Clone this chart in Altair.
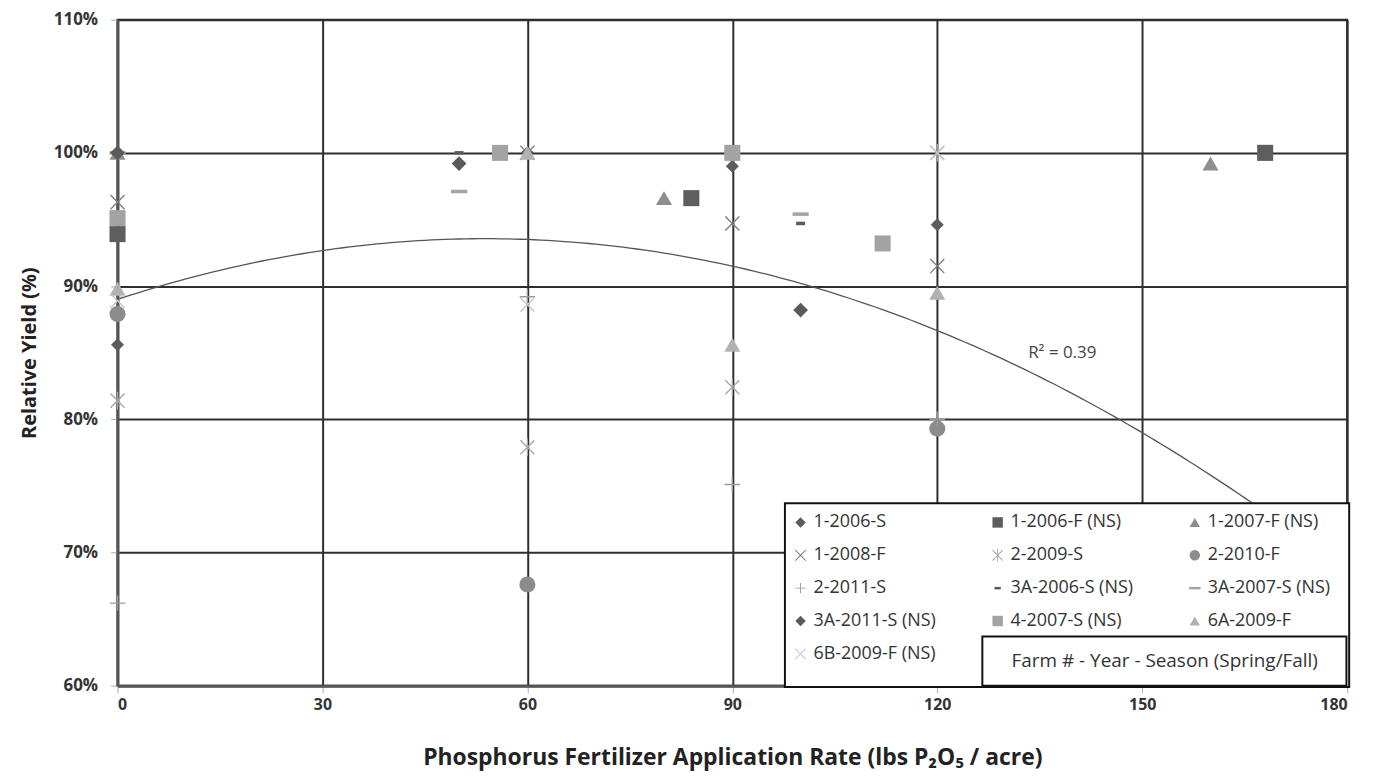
import altair as alt
import pandas as pd

# ---------------- data ----------------
series = [
    "1-2006-S", "1-2006-F (NS)", "1-2007-F (NS)",
    "1-2008-F", "2-2009-S", "2-2010-F",
    "2-2011-S", "3A-2006-S (NS)", "3A-2007-S (NS)",
    "3A-2011-S (NS)", "4-2007-S (NS)", "6A-2009-F",
    "6B-2009-F (NS)",
]

rate_1_2006_S = [0, 60, 90, 120];      ry_1_2006_S = [0.856, 1.000, 0.990, 0.946]
rate_1_2006_F = [0, 84, 168];          ry_1_2006_F = [0.939, 0.966, 1.000]
rate_1_2007_F = [0, 80, 160];          ry_1_2007_F = [1.000, 0.966, 0.992]
rate_1_2008_F = [0, 60, 90, 120];      ry_1_2008_F = [0.963, 1.000, 0.947, 0.915]
rate_2_2009_S = [0, 60, 90, 120];      ry_2_2009_S = [0.814, 0.779, 0.824, 1.000]
rate_2_2010_F = [0, 60, 90, 120];      ry_2_2010_F = [0.879, 0.676, 1.000, 0.793]
rate_2_2011_S = [0, 60, 90, 120];      ry_2_2011_S = [0.662, 0.892, 0.751, 0.800]
rate_3A_2006_S = [50, 100];            ry_3A_2006_S = [1.000, 0.947]
rate_3A_2007_S = [0, 50, 100];         ry_3A_2007_S = [1.000, 0.971, 0.954]
rate_3A_2011_S = [0, 50, 100];         ry_3A_2011_S = [1.000, 0.992, 0.882]
rate_4_2007_S = [0, 56, 90, 112];      ry_4_2007_S = [0.951, 1.000, 1.000, 0.932]
rate_6A_2009_F = [0, 60, 90, 120];     ry_6A_2009_F = [0.898, 1.000, 0.856, 0.895]
rate_6B_2009_F = [0, 60, 120];         ry_6B_2009_F = [0.889, 0.886, 1.000]

rates = [rate_1_2006_S, rate_1_2006_F, rate_1_2007_F, rate_1_2008_F, rate_2_2009_S,
         rate_2_2010_F, rate_2_2011_S, rate_3A_2006_S, rate_3A_2007_S, rate_3A_2011_S,
         rate_4_2007_S, rate_6A_2009_F, rate_6B_2009_F]
yields = [ry_1_2006_S, ry_1_2006_F, ry_1_2007_F, ry_1_2008_F, ry_2_2009_S,
          ry_2_2010_F, ry_2_2011_S, ry_3A_2006_S, ry_3A_2007_S, ry_3A_2011_S,
          ry_4_2007_S, ry_6A_2009_F, ry_6B_2009_F]

x_ticks = [0, 30, 60, 90, 120, 150, 180]
y_ticks = [0.6, 0.7, 0.8, 0.9, 1.0, 1.1]

# polynomial trendline: y = a + b*x + c*x^2
trend_a = 0.890
trend_b = 0.001694
trend_c = -0.00001574
trend_x_max = 166

r2_label = ["R² = 0.39"]
r2_x = [138.3]
r2_y = [0.850]

legend_note = ["Farm # - Year - Season (Spring/Fall)"]

# ---------------- styles ----------------
X_PATH = "M-0.93,-1.07L1.07,0.93L0.93,1.07L-1.07,-0.93Z M0.93,-1.07L1.07,-0.93L-0.93,1.07L-1.07,0.93Z"
AST_PATH = X_PATH + " M-0.09,-1.25H0.09V1.25H-0.09Z"
PLUS_PATH = "M-1,-0.09H1V0.09H-1Z M-0.09,-1H0.09V1H-0.09Z"
DASH_S = "M-0.6,-0.24H0.6V0.24H-0.6Z"
DASH_L = "M-1.1,-0.24H1.1V0.24H-1.1Z"

shapes = ["diamond", "square", "triangle-up", X_PATH, AST_PATH, "circle", PLUS_PATH,
          DASH_S, DASH_L, "diamond", "square", "triangle-up", X_PATH]
colors = ["#5c5c5c", "#5e5e5e", "#8e8e8e", "#7e7e7e", "#a8a8a8", "#8c8c8c", "#9a9a9a",
          "#5a5a5a", "#a5a5a5", "#5a5a5a", "#a3a3a3", "#b2b2b2", "#c8c8c8"]
sizes = [170, 260, 260, 200, 200, 260, 240, 220, 220, 220, 260, 260, 200]

rows = []
for s, xs, ys, sz in zip(series, rates, yields, sizes):
    for xv, yv in zip(xs, ys):
        rows.append({"series": s, "rate": xv, "ry": yv, "sz": sz})
df = pd.DataFrame(rows)

FONT = "Open Sans"

xscale = alt.Scale(domain=[0, 180], nice=False, zero=False)
yscale = alt.Scale(domain=[0.6, 1.1], nice=False, zero=False)

points = alt.Chart(df).mark_point(filled=True, opacity=1, strokeWidth=0).encode(
    x=alt.X("rate:Q", scale=xscale,
            axis=alt.Axis(values=x_ticks, title="Phosphorus Fertilizer Application Rate (lbs P₂O₅ / acre)",
                          grid=True, gridColor="#2e2e2e", gridWidth=2,
                          domainColor="#555555", domainWidth=3,
                          tickColor="#aaaaaa", tickSize=7, tickWidth=1,
                          labelFont=FONT, labelFontSize=16, labelFontWeight="bold", labelColor="#333333",
                          labelPadding=4,
                          titleFont=FONT, titleFontSize=23, titleFontWeight="bold", titleColor="#222222",
                          titlePadding=34)),
    y=alt.Y("ry:Q", scale=yscale,
            axis=alt.Axis(values=y_ticks, format=".0%", title="Relative Yield (%)",
                          grid=True, gridColor="#2e2e2e", gridWidth=2,
                          domainColor="#555555", domainWidth=3,
                          tickColor="#aaaaaa", tickSize=7, tickWidth=1,
                          labelFont=FONT, labelFontSize=17, labelFontWeight="bold", labelColor="#333333",
                          labelPadding=13,
                          titleFont=FONT, titleFontSize=20, titleFontWeight="bold", titleColor="#222222",
                          titlePadding=14)),
    shape=alt.Shape("series:N", scale=alt.Scale(domain=series, range=shapes),
                    legend=alt.Legend(title=None, orient="none", legendX=673, legendY=492,
                                      direction="horizontal",
                                      columns=3, columnPadding=52, rowPadding=15,
                                      symbolSize=110, symbolStrokeWidth=0,
                                      labelFont=FONT, labelFontSize=18, labelColor="#333333",
                                      labelOffset=4, gridAlign="all", padding=4, zindex=5)),
    color=alt.Color("series:N", scale=alt.Scale(domain=series, range=colors)),
    size=alt.Size("sz:Q", scale=None),
)

trend = alt.Chart(pd.DataFrame({"dummy": [0]})).transform_calculate(
    xs=f"sequence(0, {trend_x_max + 0.5}, 1)"
).transform_flatten(["xs"]).transform_calculate(
    tx="datum.xs",
    ty=f"{trend_a} + {trend_b}*datum.xs + ({trend_c})*datum.xs*datum.xs",
).mark_line(color="#555555", strokeWidth=1.3).encode(
    x=alt.X("tx:Q", scale=xscale),
    y=alt.Y("ty:Q", scale=yscale),
)

# legend background box (in data coordinates of the plot)
box_df = pd.DataFrame({"x1": [97.7], "x2": [180.3], "y1": [0.599], "y2": [0.737]})
legend_bg = alt.Chart(box_df).mark_rect(fill="white", stroke="#111111", strokeWidth=2).encode(
    x=alt.X("x1:Q", scale=xscale), x2="x2:Q",
    y=alt.Y("y1:Q", scale=yscale), y2="y2:Q",
)

note_df = pd.DataFrame({"x1": [126.6], "x2": [179.9], "y1": [0.6], "y2": [0.637],
                        "tx": [153.3], "ty": [0.6185], "label": legend_note})
note_box = alt.Chart(note_df).mark_rect(fill="white", stroke="#111111", strokeWidth=2).encode(
    x=alt.X("x1:Q", scale=xscale), x2="x2:Q",
    y=alt.Y("y1:Q", scale=yscale), y2="y2:Q",
)
note_text = alt.Chart(note_df).mark_text(font=FONT, fontSize=19, color="#333333").encode(
    x=alt.X("tx:Q", scale=xscale), y=alt.Y("ty:Q", scale=yscale), text="label:N",
)

r2_df = pd.DataFrame({"x": r2_x, "y": r2_y, "label": r2_label})
r2_text = alt.Chart(r2_df).mark_text(font=FONT, fontSize=17, color="#444444").encode(
    x=alt.X("x:Q", scale=xscale), y=alt.Y("y:Q", scale=yscale), text="label:N",
)

chart = alt.layer(points, trend, legend_bg, note_box, note_text, r2_text).properties(
    width=1235, height=669,
    autosize=alt.AutoSizeParams(type="none"),
    padding={"left": 110, "top": 10, "right": 30, "bottom": 92},
    background="white",
).configure_view(stroke="#222222", strokeWidth=2)

chart.save("out.html", embed_options={"renderer": "svg", "actions": False})
